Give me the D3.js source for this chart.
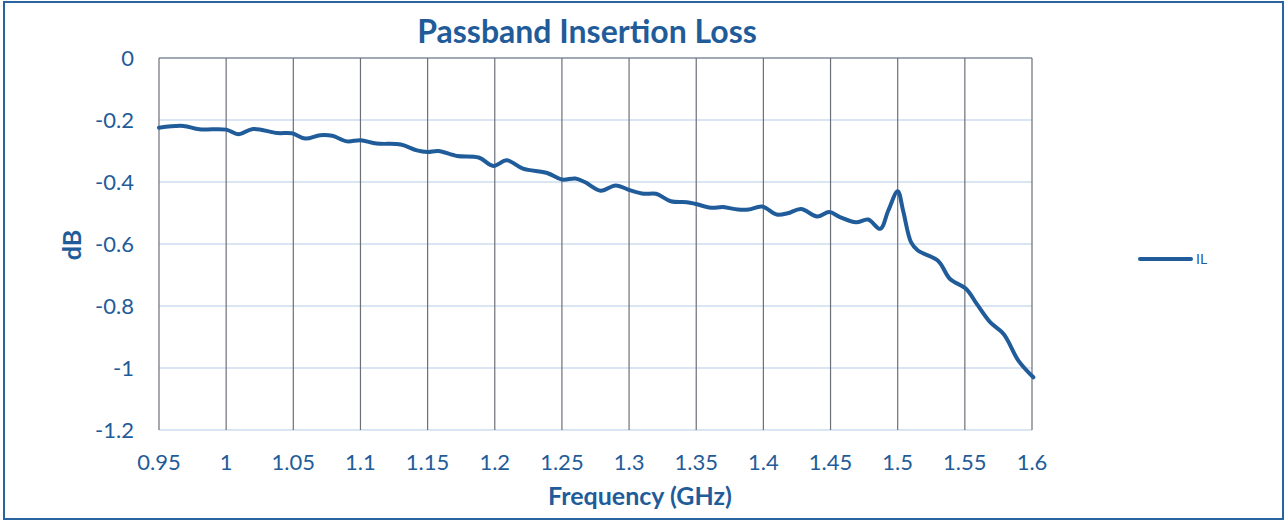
<!DOCTYPE html>
<html>
<head>
<meta charset="utf-8">
<title>Passband Insertion Loss</title>
<script src="https://d3js.org/d3.v7.min.js"></script>
<style>
  body { margin: 0; background: #fff; font-family: Lato, "Open Sans", sans-serif; }
  svg text { fill: #1f5c99; }
</style>
</head>
<body>
<script>
  // frequency (GHz) and insertion loss (dB)
  var freq = [0.95, 0.968, 0.98, 1.0, 1.009, 1.02, 1.038, 1.049, 1.059, 1.07, 1.079, 1.09, 1.1,
    1.112, 1.13, 1.142, 1.15, 1.158, 1.172, 1.188, 1.199, 1.209, 1.221, 1.239, 1.25, 1.26, 1.267,
    1.279, 1.29, 1.301, 1.311, 1.32, 1.331, 1.343, 1.349, 1.361, 1.37, 1.381, 1.389, 1.399, 1.41,
    1.418, 1.428, 1.44, 1.449, 1.457, 1.469, 1.478, 1.487, 1.493, 1.5, 1.504, 1.51, 1.515, 1.53,
    1.539, 1.551, 1.559, 1.569, 1.579, 1.59, 1.601];
  var il = [-0.225, -0.219, -0.230, -0.231, -0.246, -0.229, -0.242, -0.243, -0.260, -0.249, -0.251, -0.269, -0.265,
    -0.276, -0.279, -0.298, -0.303, -0.300, -0.316, -0.321, -0.348, -0.330, -0.357, -0.371, -0.392, -0.389, -0.400,
    -0.428, -0.411, -0.427, -0.438, -0.438, -0.462, -0.465, -0.470, -0.483, -0.481, -0.489, -0.489, -0.479, -0.505,
    -0.501, -0.487, -0.511, -0.497, -0.513, -0.530, -0.521, -0.551, -0.492, -0.430, -0.492, -0.595, -0.621, -0.654,
    -0.713, -0.745, -0.794, -0.853, -0.891, -0.977, -1.03];
  var xTicks = [0.95, 1, 1.05, 1.1, 1.15, 1.2, 1.25, 1.3, 1.35, 1.4, 1.45, 1.5, 1.55, 1.6];
  var yTicks = [0, -0.2, -0.4, -0.6, -0.8, -1, -1.2];

  var width = 1286, height = 523;
  var plotLeft = 159, plotRight = 1032, plotTop = 58, plotBottom = 430;
  var blue = "#1f5c99";

  var svg = d3.select("body").append("svg")
    .attr("width", width)
    .attr("height", height);

  // outer frame
  svg.append("rect")
    .attr("x", 4).attr("y", 2)
    .attr("width", 1279).attr("height", 517)
    .attr("fill", "none")
    .attr("stroke", "#2a64a0")
    .attr("stroke-width", 2);

  var x = d3.scaleLinear().domain([0.95, 1.6]).range([plotLeft, plotRight]);
  var y = d3.scaleLinear().domain([-1.2, 0]).range([plotBottom, plotTop]);

  // horizontal gridlines
  svg.append("g").selectAll("line")
    .data(yTicks)
    .enter().append("line")
    .attr("x1", plotLeft).attr("x2", plotRight)
    .attr("y1", function(d) { return y(d); })
    .attr("y2", function(d) { return y(d); })
    .attr("stroke", "#b3cbe6")
    .attr("stroke-width", 1.2);

  // vertical gridlines
  svg.append("g").selectAll("line")
    .data(xTicks)
    .enter().append("line")
    .attr("x1", function(d) { return x(d); })
    .attr("x2", function(d) { return x(d); })
    .attr("y1", plotTop).attr("y2", plotBottom)
    .attr("stroke", "#6b6f78")
    .attr("stroke-width", 1.2);

  svg.append("line")
    .attr("x1", plotLeft).attr("x2", plotRight)
    .attr("y1", plotTop).attr("y2", plotTop)
    .attr("stroke", "#6b6f78").attr("stroke-width", 1.2);

  // tick labels
  svg.append("g").selectAll("text")
    .data(yTicks)
    .enter().append("text")
    .attr("x", 134)
    .attr("y", function(d) { return y(d); })
    .attr("dy", "0.35em")
    .attr("text-anchor", "end")
    .style("font-size", "22px")
    .text(function(d) { return String(d); });

  svg.append("g").selectAll("text")
    .data(xTicks)
    .enter().append("text")
    .attr("x", function(d) { return x(d); })
    .attr("y", 470)
    .attr("text-anchor", "middle")
    .style("font-size", "22px")
    .text(function(d) { return String(d); });

  // the curve
  var line = d3.line()
    .x(function(d, i) { return x(freq[i]); })
    .y(function(d) { return y(d); })
    .curve(d3.curveCatmullRom.alpha(0.5));

  svg.append("path")
    .datum(il)
    .attr("d", line)
    .attr("fill", "none")
    .attr("stroke", blue)
    .attr("stroke-width", 4)
    .attr("stroke-linejoin", "round")
    .attr("stroke-linecap", "round");

  // titles
  svg.append("text")
    .attr("x", 587).attr("y", 43)
    .attr("text-anchor", "middle")
    .style("font-size", "32px").style("font-weight", "bold")
    .text("Passband Insertion Loss");

  svg.append("text")
    .attr("x", 640).attr("y", 505)
    .attr("text-anchor", "middle")
    .style("font-size", "25px").style("font-weight", "bold")
    .text("Frequency (GHz)");

  svg.append("text")
    .attr("transform", "translate(81,245) rotate(-90)")
    .attr("text-anchor", "middle")
    .style("font-size", "25px").style("font-weight", "bold")
    .text("dB");

  // legend
  svg.append("line")
    .attr("x1", 1140).attr("x2", 1191)
    .attr("y1", 259).attr("y2", 259)
    .attr("stroke", blue).attr("stroke-width", 4)
    .attr("stroke-linecap", "round");
  svg.append("text")
    .attr("x", 1196).attr("y", 264)
    .style("font-size", "14px")
    .text("IL");
</script>
</body>
</html>
